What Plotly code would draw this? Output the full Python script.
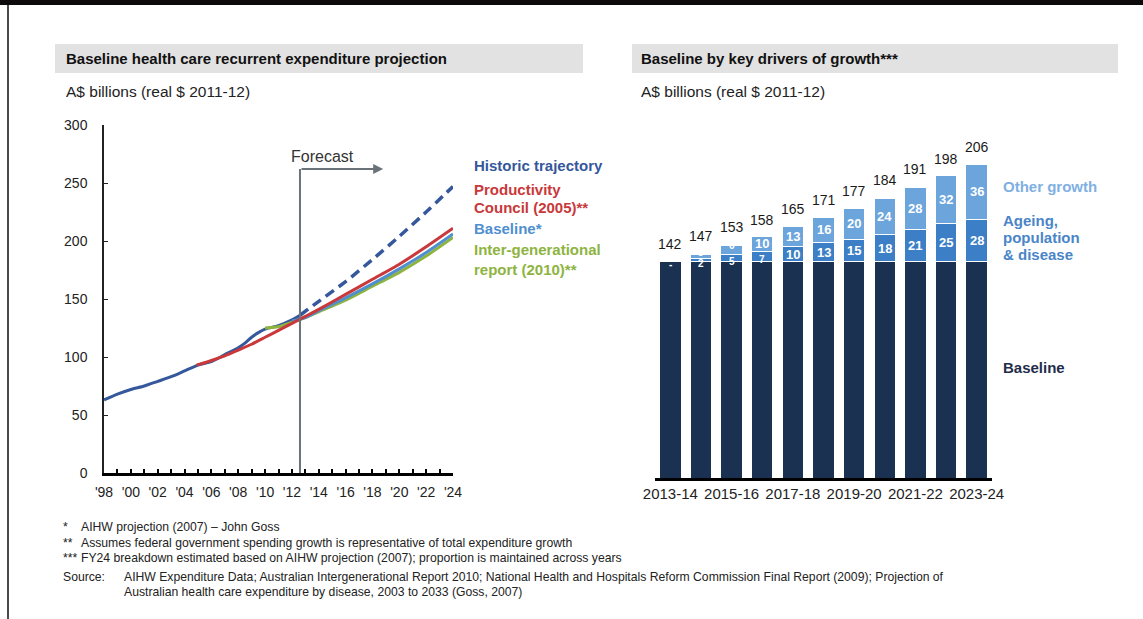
import plotly.graph_objects as go

W, H = 1143, 619
FONT = "Liberation Sans, Arial, sans-serif"

# ---- Left panel: expenditure projections (A$ billions) ----
hist_years = [1998, 1999, 2000, 2001, 2002, 2003, 2004, 2005, 2006, 2007, 2008,
              2008.5, 2009, 2009.5, 2010, 2011, 2012, 2012.6]
hist_vals = [63, 68, 72, 75, 79, 83, 88, 93, 96, 102, 108, 112, 117, 121, 124, 127, 132, 136]

traj_years = [2012.6, 2014, 2016, 2018, 2020, 2022, 2024]
traj_vals = [136, 148, 165, 184, 204, 225, 247]

pc_years = [2004.9, 2006, 2007, 2008, 2009, 2010, 2011, 2012, 2013, 2014, 2016,
            2018, 2020, 2022, 2024]
pc_vals = [93, 97, 101, 106, 111, 117, 123, 129, 135, 141, 154, 167, 180, 195, 211]

base_years = [2012, 2013, 2014, 2016, 2018, 2020, 2022, 2024]
base_vals = [131, 134, 140, 151, 163, 176, 190, 206]

igr_years = [2010, 2011, 2012, 2013, 2014, 2016, 2018, 2020, 2022, 2024]
igr_vals = [125, 126, 130, 134, 139, 149, 161, 173, 187, 203]

left_ticks = [1998, 2000, 2002, 2004, 2006, 2008, 2010, 2012, 2014, 2016,
              2018, 2020, 2022, 2024]
left_ticktext = ["'98", "'00", "'02", "'04", "'06", "'08", "'10", "'12", "'14",
                 "'16", "'18", "'20", "'22", "'24"]
forecast_year = 2012.6

# ---- Right panel: baseline by key drivers of growth ----
periods = ["2013-14", "2014-15", "2015-16", "2016-17", "2017-18", "2018-19",
           "2019-20", "2020-21", "2021-22", "2022-23", "2023-24"]
baseline = [142] * 11
ageing = [0, 2, 5, 7, 10, 13, 15, 18, 21, 25, 28]
other = [0, 3, 6, 10, 13, 16, 20, 24, 28, 32, 36]
totals = [142, 147, 153, 158, 165, 171, 177, 184, 191, 198, 206]
period_ticks = ["2013-14", "2015-16", "2017-18", "2019-20", "2021-22", "2023-24"]

C_HIST = "#35579b"
C_PC = "#c9383a"
C_BASE = "#4f8fd0"
C_IGR = "#8db43f"
C_NAVY = "#1b3152"
C_AGE = "#3d7fc6"
C_OTHER = "#6ca4dc"


def px(x):
    return x / W


def py(y):
    return 1 - y / H


fig = go.Figure()

fig.add_trace(go.Scatter(x=hist_years, y=hist_vals, mode="lines",
                         line=dict(color=C_HIST, width=3, shape="spline", smoothing=0.6),
                         xaxis="x", yaxis="y", hoverinfo="skip"))
fig.add_trace(go.Scatter(x=igr_years, y=igr_vals, mode="lines",
                         line=dict(color=C_IGR, width=3, shape="spline", smoothing=0.6),
                         xaxis="x", yaxis="y", hoverinfo="skip"))
fig.add_trace(go.Scatter(x=base_years, y=base_vals, mode="lines",
                         line=dict(color=C_BASE, width=3, shape="spline", smoothing=0.6),
                         xaxis="x", yaxis="y", hoverinfo="skip"))
fig.add_trace(go.Scatter(x=pc_years, y=pc_vals, mode="lines",
                         line=dict(color=C_PC, width=3, shape="spline", smoothing=0.6),
                         xaxis="x", yaxis="y", hoverinfo="skip"))
fig.add_trace(go.Scatter(x=traj_years, y=traj_vals, mode="lines",
                         line=dict(color=C_HIST, width=3.5, dash="10px,6px",
                                   shape="spline", smoothing=0.6),
                         xaxis="x", yaxis="y", hoverinfo="skip"))

seg_line = dict(color="white", width=1)
fig.add_trace(go.Bar(x=periods, y=baseline, marker=dict(color=C_NAVY, line=seg_line),
                     xaxis="x2", yaxis="y2", hoverinfo="skip"))
fig.add_trace(go.Bar(x=periods, y=ageing, marker=dict(color=C_AGE, line=seg_line),
                     xaxis="x2", yaxis="y2", hoverinfo="skip"))
fig.add_trace(go.Bar(x=periods, y=other, marker=dict(color=C_OTHER, line=seg_line),
                     xaxis="x2", yaxis="y2", hoverinfo="skip"))

annotations = []

# segment labels inside the stacked bars (smaller type on the thin segments)
for p, b, a, o, t in zip(periods, baseline, ageing, other, totals):
    small_a = a < 8
    annotations.append(dict(x=p, y=b + a / 2, xref="x2", yref="y2",
                            text="<b>%s</b>" % (a if a else "-"), showarrow=False,
                            font=dict(family=FONT, size=10 if small_a else 13, color="white"),
                            yshift=-3 if small_a else 0))
    if o:
        small_o = o < 8
        annotations.append(dict(x=p, y=b + a + o / 2, xref="x2", yref="y2",
                                text="<b>%s</b>" % o, showarrow=False,
                                font=dict(family=FONT, size=10 if small_o else 13,
                                          color="white"),
                                yshift=4 if small_o else 0))
    annotations.append(dict(x=p, y=t, xref="x2", yref="y2", text=str(t),
                            showarrow=False, yanchor="bottom", yshift=8,
                            font=dict(family=FONT, size=14, color="#1a1a1a")))

# forecast marker
annotations.append(dict(x=2018.8, y=262, ax=forecast_year, ay=262, xref="x", yref="y",
                        axref="x", ayref="y", text="", showarrow=True, arrowhead=2,
                        arrowsize=1, arrowwidth=2, arrowcolor="#6b7378"))
annotations.append(dict(x=2014.3, y=264, xref="x", yref="y", text="Forecast",
                        showarrow=False, yanchor="bottom",
                        font=dict(family=FONT, size=16, color="#333")))


def label(x, y, text, size, color, bold=False, anchor="left"):
    annotations.append(dict(x=px(x), y=py(y), xref="paper", yref="paper",
                            text=f"<b>{text}</b>" if bold else text,
                            showarrow=False, xanchor=anchor, yanchor="middle",
                            xshift=-1,
                            font=dict(family=FONT, size=size, color=color)))


# panel titles and units
label(65, 59, "Baseline health care recurrent expenditure projection", 15, "#111", True)
label(640, 59, "Baseline by key drivers of growth***", 15, "#111", True)
label(65, 91, "A$ billions (real $ 2011-12)", 15.5, "#222")
label(640, 91, "A$ billions (real $ 2011-12)", 15.5, "#222")

# line series labels
label(473, 166, "Historic trajectory", 15, C_HIST, True)
label(473, 190, "Productivity", 15, C_PC, True)
label(473, 208, "Council (2005)**", 15, C_PC, True)
label(473, 229, "Baseline*", 15, C_BASE, True)
label(473, 250, "Inter-generational", 15, C_IGR, True)
label(473, 269, "report (2010)**", 15, C_IGR, True)

# bar segment labels
label(1002, 186, "Other growth", 15, "#7fb0e3", True)
label(1002, 220, "Ageing,", 15, "#4a85c8", True)
label(1002, 237, "population", 15, "#4a85c8", True)
label(1002, 254, "& disease", 15, "#4a85c8", True)
label(1002, 367, "Baseline", 15, "#1f2d4a", True)

# footnotes
FN = 12.2
label(62, 527, "*", FN, "#222")
label(62, 543, "**", FN, "#222")
label(62, 558, "***", FN, "#222")
label(80, 527, "AIHW projection (2007) – John Goss", FN, "#222")
label(80, 543, "Assumes federal government spending growth is representative of total expenditure growth", FN, "#222")
label(80, 558, "FY24 breakdown estimated based on AIHW projection (2007); proportion is maintained across years", FN, "#222")
label(62, 577, "Source:", FN, "#222")
label(123, 577, "AIHW Expenditure Data; Australian Intergenerational Report 2010; National Health and Hospitals Reform Commission Final Report (2009); Projection of", FN, "#222")
label(123, 592, "Australian health care expenditure by disease, 2003 to 2033 (Goss, 2007)", FN, "#222")

shapes = [
    # page frame
    dict(type="rect", xref="paper", yref="paper", x0=0, x1=1, y0=py(5), y1=1,
         fillcolor="#0d0a0b", line=dict(width=0), layer="above"),
    dict(type="line", xref="paper", yref="paper", x0=px(8), x1=px(8), y0=0, y1=py(5),
         line=dict(color="#4a4a4a", width=2)),
    # title bands
    dict(type="rect", xref="paper", yref="paper", x0=px(55), x1=px(583), y0=py(73), y1=py(44),
         fillcolor="#e2e2e2", line=dict(width=0), layer="below"),
    dict(type="rect", xref="paper", yref="paper", x0=px(632), x1=px(1118), y0=py(73), y1=py(44),
         fillcolor="#e2e2e2", line=dict(width=0), layer="below"),
    # forecast divider
    dict(type="line", xref="x", yref="y", x0=forecast_year, x1=forecast_year, y0=0, y1=262,
         line=dict(color="#6b7378", width=2)),
]

fig.update_layout(
    width=W, height=H, margin=dict(l=0, r=0, t=0, b=0, pad=0),
    paper_bgcolor="white", plot_bgcolor="white",
    showlegend=False, barmode="stack", bargap=0.3,
    font=dict(family=FONT, color="#222"),
    annotations=annotations, shapes=shapes,
    xaxis=dict(domain=[px(104), px(453)], range=[1998, 2024], tickvals=left_ticks,
               ticktext=left_ticktext, showgrid=False, zeroline=False, automargin=False,
               showline=True, linecolor="black", linewidth=2.5,
               ticks="inside", ticklen=4, tickwidth=2, tickcolor="black",
               ticklabelstandoff=4,
               minor=dict(dtick=1, ticks="inside", ticklen=4, tickwidth=2, tickcolor="black"),
               tickfont=dict(family=FONT, size=14, color="#222")),
    yaxis=dict(domain=[py(473), py(125)], range=[0, 300], dtick=50, showgrid=False,
               zeroline=False, showline=True, linecolor="#222", linewidth=1.5,
               automargin=False, ticks="inside", ticklen=4, tickcolor="#222",
               ticklabelstandoff=12,
               tickfont=dict(family=FONT, size=14, color="#222")),
    xaxis2=dict(domain=[px(655), px(992)], anchor="y2", tickvals=period_ticks,
                showgrid=False, zeroline=False, showline=True, linecolor="black",
                automargin=False, linewidth=3, ticks="",
                tickfont=dict(family=FONT, size=15, color="#222")),
    yaxis2=dict(domain=[py(478), py(125)], range=[0, 232], anchor="x2", visible=False,
                automargin=False),
)

fig.write_html("out.html")
